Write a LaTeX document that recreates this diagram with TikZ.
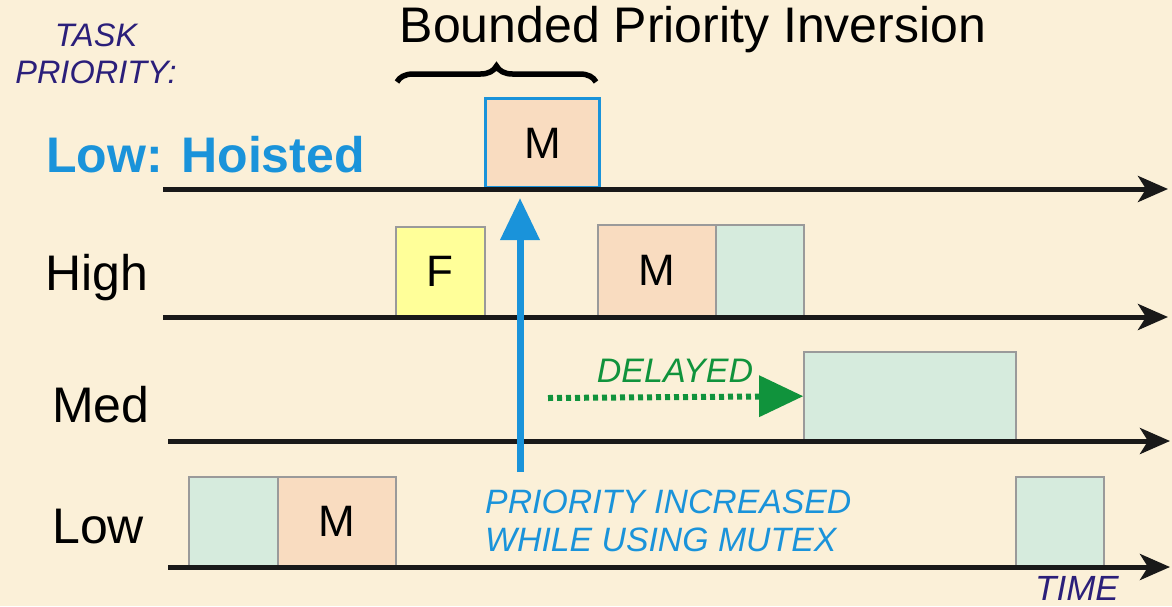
\documentclass[tikz,border=0pt]{standalone}
\usepackage{fontspec}
\setmainfont{Liberation Sans}
\usetikzlibrary{arrows.meta,decorations.pathreplacing}
\definecolor{bg}{HTML}{FBF0D8}
\definecolor{peach}{HTML}{F9DCC0}
\definecolor{mint}{HTML}{D6EBDD}
\definecolor{yel}{HTML}{FFFF99}
\definecolor{hblue}{HTML}{1A93DA}
\definecolor{navy}{HTML}{2B1F7A}
\definecolor{dgreen}{HTML}{10933C}
\definecolor{edge}{HTML}{9A9A9A}
\begin{document}
\begin{tikzpicture}[x=1pt,y=-1pt,
  axis/.style={line width=5pt,draw=black!90,-{Stealth[length=30pt,width=26pt,inset=8pt]}},
  box/.style={draw=edge,line width=1.6pt,inner sep=0pt,anchor=south west,font=\fontsize{44}{48}\selectfont},
  lbl/.style={font=\fontsize{50}{54}\selectfont,anchor=west,inner sep=0pt}]
\fill[bg] (0,0) rectangle (1172,606);
\useasboundingbox (0,0) rectangle (1172,606);
% axes
\coordinate (a1s) at (163,189); \coordinate (a1e) at (1168,189);
\coordinate (a2s) at (163,317); \coordinate (a2e) at (1168,317);
\coordinate (a3s) at (168,441); \coordinate (a3e) at (1170,441);
\coordinate (a4s) at (168,567); \coordinate (a4e) at (1170,567);
% boxes
\node[box,draw=hblue,line width=3pt,fill=peach,minimum width=114pt,minimum height=89pt] (hm) at (484,189) {M};
\node[box,fill=yel,minimum width=89pt,minimum height=89pt] (hf) at (395,317) {F};
\node[box,fill=peach,minimum width=118pt,minimum height=91pt] (hm2) at (597,317) {M};
\node[box,fill=mint,minimum width=88pt,minimum height=91pt] (ht) at (715,317) {};
\node[box,fill=mint,minimum width=212pt,minimum height=88pt] (mt) at (803,441) {};
\node[box,fill=mint,minimum width=89pt,minimum height=89pt] (lt1) at (188,567) {};
\node[box,fill=peach,minimum width=118pt,minimum height=89pt] (lm) at (277,567) {M};
\node[box,fill=mint,minimum width=88pt,minimum height=89pt] (lt2) at (1015,567) {};
\draw[axis] (a1s) -- (a1e);
\draw[axis] (a2s) -- (a2e);
\draw[axis] (a3s) -- (a3e);
\draw[axis] (a4s) -- (a4e);
% labels
\node[font=\fontsize{32.5}{37}\selectfont\itshape,text=navy,align=center,inner sep=0pt] (tp) at (96,54) {TASK\\PRIORITY:};
\node[lbl,font=\fontsize{50}{54}\selectfont\bfseries,text=hblue] (lh) at (46,155) {Low: Hoisted};
\node[lbl] (lhigh) at (45,278) {High};
\node[lbl] (lmed) at (52,405) {Med};
\node[lbl] (llow) at (52,527) {Low};
\node[font=\fontsize{50}{54}\selectfont,inner sep=0pt] (title) at (693,30) {Bounded Priority Inversion};
\draw[decorate,decoration={brace,amplitude=16pt},line width=5.5pt] (397,82) -- (596,82);
% priority arrow
\node[font=\fontsize{33.8}{38}\selectfont\itshape,text=hblue,align=left,anchor=north west,inner sep=0pt] (pi) at (485,490) {PRIORITY INCREASED\\WHILE USING MUTEX};
\coordinate (pb) at (520,472);
\coordinate (pt) at (520,198);
\draw[line width=7pt,draw=hblue,-{Triangle[length=42pt,width=38pt]}] (pb) -- (pt);
% delayed
\node[font=\fontsize{34}{38}\selectfont\itshape,text=dgreen,inner sep=0pt] (dl) at (675,371) {DELAYED};
\coordinate (ds) at (548,398);
\draw[draw=dgreen,line width=6pt,dash pattern=on 5pt off 4pt,shorten >=42pt] (ds) -- (mt.west);
\fill[dgreen] ([xshift=-44pt,yshift=-21pt]mt.west) -- (mt.west) -- ([xshift=-44pt,yshift=21pt]mt.west) -- cycle;
\node[font=\fontsize{35}{39}\selectfont\itshape,text=navy,inner sep=0pt] (time) at (1077,588) {TIME};
\end{tikzpicture}
\end{document}
